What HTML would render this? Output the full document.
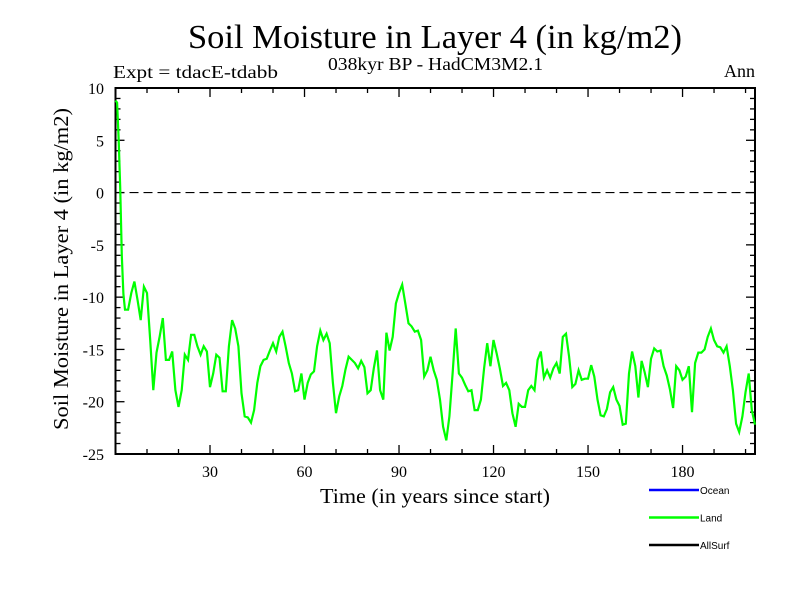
<!DOCTYPE html>
<html><head><meta charset="utf-8"><style>
body{margin:0;background:#fff;}
svg{display:block;}
text{font-family:"Liberation Serif",serif;fill:#000;}
</style></head><body>
<svg id="chart" width="800" height="600">
<text x="188" y="48" font-size="34" textLength="494" lengthAdjust="spacingAndGlyphs">Soil Moisture in Layer 4 (in kg/m2)</text>
<text x="328" y="70" font-size="18" textLength="215" lengthAdjust="spacingAndGlyphs">038kyr BP - HadCM3M2.1</text>
<text x="113" y="78" font-size="18" textLength="165" lengthAdjust="spacingAndGlyphs">Expt = tdacE-tdabb</text>
<text x="755" y="77" font-size="18" text-anchor="end">Ann</text>
<text x="320" y="503" font-size="21" textLength="230" lengthAdjust="spacingAndGlyphs">Time (in years since start)</text>
<text transform="translate(68,430) rotate(-90)" font-size="21" textLength="322" lengthAdjust="spacingAndGlyphs">Soil Moisture in Layer 4 (in kg/m2)</text>
<g id="axes"></g>
<g id="plot"></g>
<g id="legend"></g>
</svg>
<script>
const years=[0,0.5,1,1.5,2,2.5,3,4,5,6,7,8,9,10,11,12,13,14,15,16,17,18,19,20,21,22,23,24,25,26,27,28,29,30,31,32,33,34,35,36,37,38,39,40,41,42,43,44,45,46,47,48,49,50,51,52,53,54,55,56,57,58,59,60,61,62,63,64,65,66,67,68,69,70,71,72,73,74,75,76,77,78,79,80,81,82,83,84,85,86,87,88,89,90,91,92,93,94,95,96,97,98,99,100,101,102,103,104,105,106,107,108,109,110,111,112,113,114,115,116,117,118,119,120,121,122,123,124,125,126,127,128,129,130,131,132,133,134,135,136,137,138,139,140,141,142,143,144,145,146,147,148,149,150,151,152,153,154,155,156,157,158,159,160,161,162,163,164,165,166,167,168,169,170,171,172,173,174,175,176,177,178,179,180,181,182,183,184,185,186,187,188,189,190,191,192,193,194,195,196,197,198,199,200,201,202,203];
const landValues=[8.8,8.6,5,0.5,-6,-9.7,-11.2,-11.2,-9.6,-8.5,-10.3,-12.2,-9,-9.6,-14.1,-18.9,-15.3,-13.8,-12,-16,-16,-15.2,-18.9,-20.5,-18.9,-15.5,-16,-13.6,-13.6,-14.7,-15.5,-14.7,-15.2,-18.6,-17.3,-15.5,-15.8,-19,-19,-14.7,-12.2,-13,-14.7,-19.2,-21.4,-21.5,-22,-20.8,-18.2,-16.6,-16,-15.9,-15.1,-14.4,-15.2,-13.8,-13.3,-14.7,-16.3,-17.3,-19,-18.9,-17.3,-19.8,-18.2,-17.4,-17.1,-14.7,-13.2,-14.1,-13.5,-14.4,-18.2,-21.1,-19.5,-18.5,-16.9,-15.7,-16,-16.3,-16.8,-16.1,-16.7,-19.2,-18.9,-16.8,-15.1,-18.9,-19.8,-13.4,-15.1,-13.8,-10.6,-9.6,-8.8,-10.6,-12.5,-12.8,-13.3,-13.2,-14.1,-17.6,-17,-15.7,-17,-17.9,-19.8,-22.4,-23.7,-21.4,-17.3,-13,-17.3,-17.7,-18.4,-19,-18.9,-20.8,-20.8,-19.8,-16.8,-14.4,-16.6,-14.1,-15.4,-16.8,-18.5,-18.2,-18.9,-21.1,-22.4,-20.2,-20.5,-20.5,-18.9,-18.5,-18.9,-16,-15.2,-17.7,-17,-17.7,-16.8,-16.3,-17.3,-13.8,-13.5,-15.7,-18.6,-18.3,-17,-17.9,-17.8,-17.8,-16.5,-17.6,-19.8,-21.3,-21.4,-20.7,-19.1,-18.6,-19.8,-20.4,-22.2,-22.1,-17.3,-15.2,-16.6,-19.6,-16.1,-17.2,-18.6,-15.9,-14.9,-15.2,-15.1,-16.6,-17.5,-18.8,-20.6,-16.6,-17,-17.9,-17.6,-16.6,-21,-16.3,-15.3,-15.3,-15,-13.8,-13,-14.1,-14.7,-14.8,-15.3,-14.7,-16.6,-18.9,-22.1,-22.9,-21.4,-19.1,-17.3,-20.8,-22.2];
const yTicks=[10,5,0,-5,-10,-15,-20,-25];
const xTicks=[30,60,90,120,150,180];
const legendNames=["Ocean","Land","AllSurf"];
const legendColors=["#0000ff","#00ff00","#000000"];

const NS="http://www.w3.org/2000/svg";
const L=115.5,R=755,T=88,B=454;
const X0=0,X1=203,Y0=-25,Y1=10;
const sx=v=>L+(v-X0)/(X1-X0)*(R-L);
const sy=v=>B-(v-Y0)/(Y1-Y0)*(B-T);
function mk(tag,attrs,parent){const e=document.createElementNS(NS,tag);for(const k in attrs)e.setAttribute(k,attrs[k]);parent.appendChild(e);return e;}
const axes=document.getElementById('axes');
const plot=document.getElementById('plot');
const legend=document.getElementById('legend');

const frame=mk('rect',{x:L,y:T,width:R-L,height:B-T,fill:'none',stroke:'#000','stroke-width':2},axes);


for(let v=Y0;v<=Y1;v++){
  const major=v%5===0;const len=major?9:5;
  const t1=mk('line',{x1:L,x2:L+len,y1:sy(v),y2:sy(v),stroke:'#000','stroke-width':1.3},axes);
  
  
  const t2=mk('line',{x1:R,x2:R-len,y1:sy(v),y2:sy(v),stroke:'#000','stroke-width':1.3},axes);
  
  
}
yTicks.forEach(v=>{
  const t=mk('text',{x:104,y:sy(v)+6,'font-size':16,'text-anchor':'end'},axes);
  t.textContent=v;
  
  
});
for(let v=10;v<X1;v+=10){
  const major=v%30===0;const len=major?9:5;
  const a=mk('line',{x1:sx(v),x2:sx(v),y1:B,y2:B-len,stroke:'#000','stroke-width':1.3},axes);
  
  
  const b=mk('line',{x1:sx(v),x2:sx(v),y1:T,y2:T+len,stroke:'#000','stroke-width':1.3},axes);
  
  
}
xTicks.forEach(v=>{
  const t=mk('text',{x:sx(v),y:477,'font-size':16,'text-anchor':'middle'},axes);
  t.textContent=v;
  
  
});
const zl=mk('line',{x1:L,x2:R,y1:sy(0),y2:sy(0),stroke:'#000','stroke-width':1.2,'stroke-dasharray':'9,5'},plot);


const pts=years.map((y,i)=>sx(y).toFixed(1)+','+sy(landValues[i]).toFixed(1)).join(' ');
const line=mk('polyline',{points:pts,fill:'none',stroke:'#00ff00','stroke-width':2.2,'stroke-linejoin':'miter'},plot);



legendNames.forEach((n,i)=>{
  const y=490+i*27.5;
  const l=mk('line',{x1:649,x2:699,y1:y,y2:y,stroke:legendColors[i],'stroke-width':2.5},legend);
  
  
  const t=mk('text',{x:700,y:y+4,'font-size':10,style:'font-family:"Liberation Sans",sans-serif'},legend);
  t.textContent=n;
  
  
});
</script>
</body></html>
